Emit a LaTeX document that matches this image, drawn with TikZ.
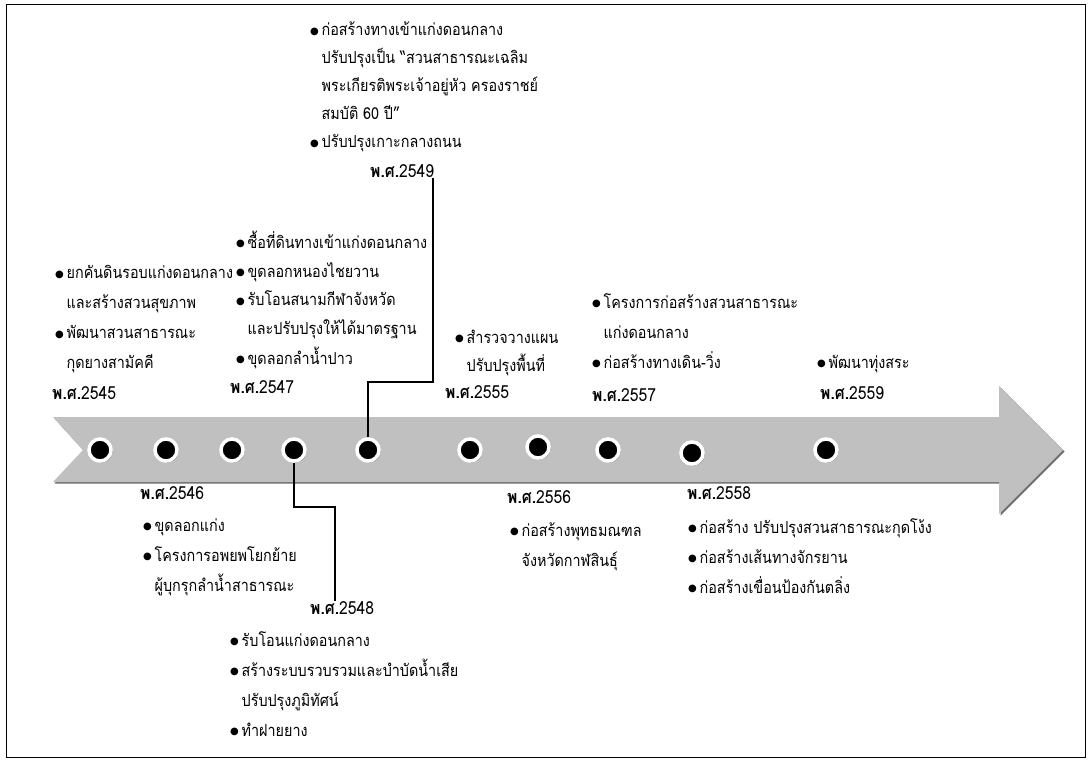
\documentclass[tikz,border=0pt]{standalone}
\usepackage{fontspec}
\setmainfont[Script=Thai, FakeStretch=0.87]{Loma}
\newfontfamily\symfont{DejaVu Sans}
\usetikzlibrary{shadows}
\definecolor{cband}{RGB}{192,192,192}
\definecolor{cshade}{RGB}{110,110,110}
\newcommand{\tlbul}{\raisebox{1.6pt}{\symfont\fontsize{10}{10}\selectfont ●}\,}
\newcommand{\tlind}{\hphantom{\tlbul}}
\newcommand{\tllines}[1]{\begin{tabular}[t]{@{}l@{}}#1\end{tabular}}
\newcommand{\tlyear}[1]{{\bfseries พ.ศ.}#1}

\begin{document}
\begin{tikzpicture}[x=1pt, y=-1pt,
    dot/.style={circle, fill=black, draw=white, line width=3.5pt, minimum size=22pt, inner sep=0pt,
                drop shadow={shadow xshift=1.5pt, shadow yshift=-1.5pt, fill=cshade, opacity=1}},
    yr/.style={font=\fontsize{18}{20}\selectfont, anchor=base west, inner sep=0pt},
    txt/.style={font=\fontsize{16.5}{30}\selectfont, anchor=base west, inner sep=0pt},
    conn/.style={line width=1.5pt, black}
  ]
  \useasboundingbox (0,0) rectangle (1090,762);
  \draw[line width=1pt] (6,5) rectangle (1085,757);

  % timeline band
  \fill[cshade] ([shift={(1.5,1.5)}]53,417) -- ++(946,0) -- ++(0,-31) -- ++(64,64) -- ++(-64,64)
    -- ++(0,-32) -- ++(-946,0) -- ++(30,-32) -- cycle;
  \fill[cband] (53,417) -- (999,417) -- (999,386) -- (1063,450) -- (999,514) -- (999,482)
    -- (53,482) -- (83,450) -- cycle;

  \node[dot] (d1) at (100,450) {};
  \node[dot] (d2) at (166,450) {};
  \node[dot] (d3) at (232,450) {};
  \node[dot] (d4) at (294,450) {};
  \node[dot] (d5) at (368,450) {};
  \node[dot] (d6) at (470,450) {};
  \node[dot] (d7) at (538,447) {};
  \node[dot] (d8) at (608,450) {};
  \node[dot] (d9) at (692,453) {};
  \node[dot] (d10) at (826,450) {};

  % above the band
  \node[txt, font=\fontsize{16.5}{28}\selectfont] (t2549) at (310,36) {\tllines{
    \tlbul ก่อสร้างทางเข้าแก่งดอนกลาง\\
    \tlind ปรับปรุงเป็น “สวนสาธารณะเฉลิม\\
    \tlind พระเกียรติพระเจ้าอยู่หัว ครองราชย์\\
    \tlind สมบัติ 60 ปี”\\
    \tlbul ปรับปรุงเกาะกลางถนน}};
  \node[yr] (y2549) at (370,178) {\tlyear{2549}};

  \node[txt] (t2545) at (55,279) {\tllines{
    \tlbul ยกคันดินรอบแก่งดอนกลาง\\
    \tlind และสร้างสวนสุขภาพ\\
    \tlbul พัฒนาสวนสาธารณะ\\
    \tlind กุดยางสามัคคี}};
  \node[yr] (y2545) at (52,399) {\tlyear{2545}};

  \node[txt, font=\fontsize{16.5}{29}\selectfont] (t2547) at (236,248) {\tllines{
    \tlbul ซื้อที่ดินทางเข้าแก่งดอนกลาง\\
    \tlbul ขุดลอกหนองไชยวาน\\
    \tlbul รับโอนสนามกีฬาจังหวัด\\
    \tlind และปรับปรุงให้ได้มาตรฐาน\\
    \tlbul ขุดลอกลำน้ำปาว}};
  \node[yr] (y2547) at (230,393) {\tlyear{2547}};

  \node[txt, font=\fontsize{16.5}{28}\selectfont] (t2555) at (455,343) {\tllines{
    \tlbul สำรวจวางแผน\\
    \tlind ปรับปรุงพื้นที่}};
  \node[yr] (y2555) at (445,398) {\tlyear{2555}};

  \node[txt] (t2557) at (592,308) {\tllines{
    \tlbul โครงการก่อสร้างสวนสาธารณะ\\
    \tlind แก่งดอนกลาง\\
    \tlbul ก่อสร้างทางเดิน-วิ่ง}};
  \node[yr] (y2557) at (592,401) {\tlyear{2557}};

  \node[txt] (t2559) at (817,368) {\tlbul พัฒนาทุ่งสระ};
  \node[yr] (y2559) at (820,399) {\tlyear{2559}};

  % below the band
  \node[yr] (y2546) at (140,499) {\tlyear{2546}};
  \node[txt] (t2546) at (143,531) {\tllines{
    \tlbul ขุดลอกแก่ง\\
    \tlbul โครงการอพยพโยกย้าย\\
    \tlind ผู้บุกรุกลำน้ำสาธารณะ}};

  \node[yr] (y2548) at (310,614) {\tlyear{2548}};
  \node[txt] (t2548) at (230,646) {\tllines{
    \tlbul รับโอนแก่งดอนกลาง\\
    \tlbul สร้างระบบรวบรวมและบำบัดน้ำเสีย\\
    \tlind ปรับปรุงภูมิทัศน์\\
    \tlbul ทำฝายยาง}};

  \node[yr] (y2556) at (507,503) {\tlyear{2556}};
  \node[txt] (t2556) at (510,536) {\tllines{
    \tlbul ก่อสร้างพุทธมณฑล\\
    \tlind จังหวัดกาฬสินธุ์}};

  \node[yr] (y2558) at (687,499) {\tlyear{2558}};
  \node[txt] (t2558) at (688,533) {\tllines{
    \tlbul ก่อสร้าง ปรับปรุงสวนสาธารณะกุดโง้ง\\
    \tlbul ก่อสร้างเส้นทางจักรยาน\\
    \tlbul ก่อสร้างเขื่อนป้องกันตลิ่ง}};

  % leader lines
  \coordinate (k49) at (433,382);
  \coordinate (k48) at (335,507);
  \draw[conn] (d5.north) -- (d5.north |- k49) -- (k49) -- (k49 |- y2549.south);
  \draw[conn] (d4.south) -- (d4.south |- k48) -- (k48) -- (k48 |- y2548.north);
\end{tikzpicture}
\end{document}
